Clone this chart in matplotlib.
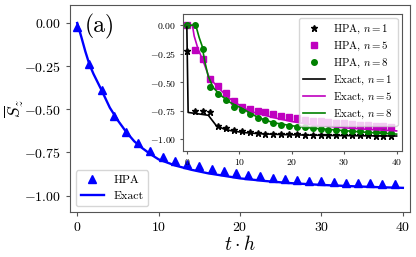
import numpy as np
import matplotlib
matplotlib.use("Agg")
from matplotlib import pyplot as plt

plt.rcParams['font.family'] = 'serif'
plt.rcParams['font.serif'] = ['cmr10', 'DejaVu Serif']
plt.rcParams['mathtext.fontset'] = 'cm'
plt.rcParams['axes.formatter.use_mathtext'] = True
plt.rcParams['axes.unicode_minus'] = True

# main panel: HPA (markers) and exact curve
t_hpa = [0, 1.5, 3, 4.5, 6, 7.5, 9, 10.5, 12, 13.5, 15, 16.5, 18, 19.5, 21,
         22.5, 24, 25.5, 27, 28.5, 30, 31.5, 33, 34.5, 36, 37.5, 39]
sz_hpa = [-0.025, -0.237, -0.386, -0.536, -0.631, -0.694, -0.739, -0.775, -0.80,
          -0.814, -0.83, -0.845, -0.859, -0.87, -0.878, -0.888, -0.895, -0.903,
          -0.907, -0.913, -0.917, -0.92, -0.924, -0.926, -0.928, -0.93, -0.932]

t_exact = [0, 0.5, 1, 1.5, 2, 3, 4, 5, 6, 7, 8, 9, 10, 12, 14, 16, 18, 20,
           23, 26, 30, 34, 37, 40]
sz_exact = [0.0, -0.08, -0.165, -0.24, -0.295, -0.39, -0.49, -0.565, -0.63,
            -0.685, -0.725, -0.76, -0.79, -0.825, -0.85, -0.87, -0.885, -0.9,
            -0.915, -0.927, -0.938, -0.946, -0.951, -0.955]

# inset: HPA for n = 1, 5, 8 (same time grid as t_hpa)
hpa_n1 = [-0.23, -0.75, -0.75, -0.76, -0.885, -0.905, -0.92, -0.93, -0.94,
          -0.945, -0.95, -0.952, -0.955, -0.957, -0.958, -0.96, -0.961, -0.962,
          -0.963, -0.964, -0.965, -0.966, -0.967, -0.967, -0.968, -0.968, -0.969]
hpa_n5 = [0.0, -0.216, -0.297, -0.472, -0.53, -0.594, -0.667, -0.714, -0.735,
          -0.752, -0.765, -0.78, -0.793, -0.807, -0.818, -0.828, -0.836, -0.843,
          -0.85, -0.856, -0.862, -0.867, -0.872, -0.877, -0.881, -0.885, -0.889]
hpa_n8 = [0.0, 0.0, -0.21, -0.545, -0.603, -0.66, -0.715, -0.74, -0.78, -0.81,
          -0.835, -0.86, -0.872, -0.882, -0.89, -0.897, -0.905, -0.91, -0.915,
          -0.92, -0.924, -0.928, -0.931, -0.934, -0.937, -0.94, -0.942]

# inset: exact curves
t_ex1 = [0, 0.25, 4.1, 5.6, 7.3, 9, 11, 14, 18, 22, 27, 33, 40]
ex_n1 = [0.0, -0.765, -0.79, -0.88, -0.915, -0.93, -0.942, -0.952, -0.959,
         -0.963, -0.967, -0.97, -0.972]
t_ex5 = [0, 1.07, 1.4, 2.15, 3.1, 4.25, 5.65, 7.2, 8.8, 12, 16.5, 20, 24, 30, 35, 40]
ex_n5 = [0.0, 0.0, -0.094, -0.21, -0.312, -0.457, -0.53, -0.603, -0.667, -0.755,
         -0.81, -0.845, -0.874, -0.9, -0.915, -0.927]
t_ex8 = [0, 1.7, 2.35, 2.9, 3.4, 4.05, 5, 6.3, 8.2, 10.7, 13.6, 16.5, 20, 24, 30, 35, 40]
ex_n8 = [0.0, 0.0, -0.107, -0.18, -0.312, -0.443, -0.545, -0.609, -0.676, -0.734,
         -0.81, -0.855, -0.882, -0.903, -0.925, -0.942, -0.955]

frame_col = '#555555'

fig = plt.figure(figsize=(4.16, 2.57), dpi=100)
ax = fig.add_axes([0.168, 0.175, 0.818, 0.806])
ax.plot(t_hpa, sz_hpa, 'b^', ms=6, label='HPA')
ax.plot(t_exact, sz_exact, 'b-', lw=1.7, label='Exact')
ax.set_xlim(-0.9, 40.9)
ax.set_ylim(-1.095, 0.105)
ax.set_xticks([0, 10, 20, 30, 40])
ax.set_yticks([0, -0.25, -0.5, -0.75, -1.0])
ax.yaxis.set_major_formatter(matplotlib.ticker.FormatStrFormatter('$%.2f$'))
ax.tick_params(labelsize=10, color=frame_col, length=3)
for s in ax.spines.values():
    s.set_color(frame_col)
ax.set_xlabel(r'$t\cdot h$', fontsize=14, labelpad=1)
ax.set_ylabel(r'$\overline{S}_z$', fontsize=12.5)
ax.yaxis.set_label_coords(-0.128, 0.5)
ax.text(0.045, 0.895, '(a)', transform=ax.transAxes, fontsize=17, va='center')
ax.legend(loc='lower left', fontsize=8.5, numpoints=1)

ins = fig.add_axes([0.439, 0.414, 0.527, 0.532])
ins.plot(t_hpa, hpa_n1, 'k*', ms=4.5, label=r'HPA, $n=1$')
ins.plot(t_hpa, hpa_n5, 'ms', ms=3.8, label=r'HPA, $n=5$')
ins.plot(t_hpa, hpa_n8, 'go', ms=4, label=r'HPA, $n=8$')
ins.plot(t_ex1, ex_n1, 'k-', lw=1.2, label=r'Exact, $n=1$')
ins.plot(t_ex5, ex_n5, 'm-', lw=1.2, label=r'Exact, $n=5$')
ins.plot(t_ex8, ex_n8, 'g-', lw=1.2, label=r'Exact, $n=8$')
ins.set_xlim(-0.8, 41.0)
ins.set_ylim(-1.1, 0.1)
ins.set_xticks([0, 10, 20, 30, 40])
ins.set_yticks([0, -0.25, -0.5, -0.75, -1.0])
ins.yaxis.set_major_formatter(matplotlib.ticker.FormatStrFormatter('$%.2f$'))
ins.tick_params(labelsize=7, color=frame_col, length=2.5, pad=2)
for s in ins.spines.values():
    s.set_color(frame_col)
ins.legend(loc='upper right', fontsize=7.8, numpoints=1, labelspacing=0.35,
           borderaxespad=0.4)

fig.savefig('out.png', dpi=100)
